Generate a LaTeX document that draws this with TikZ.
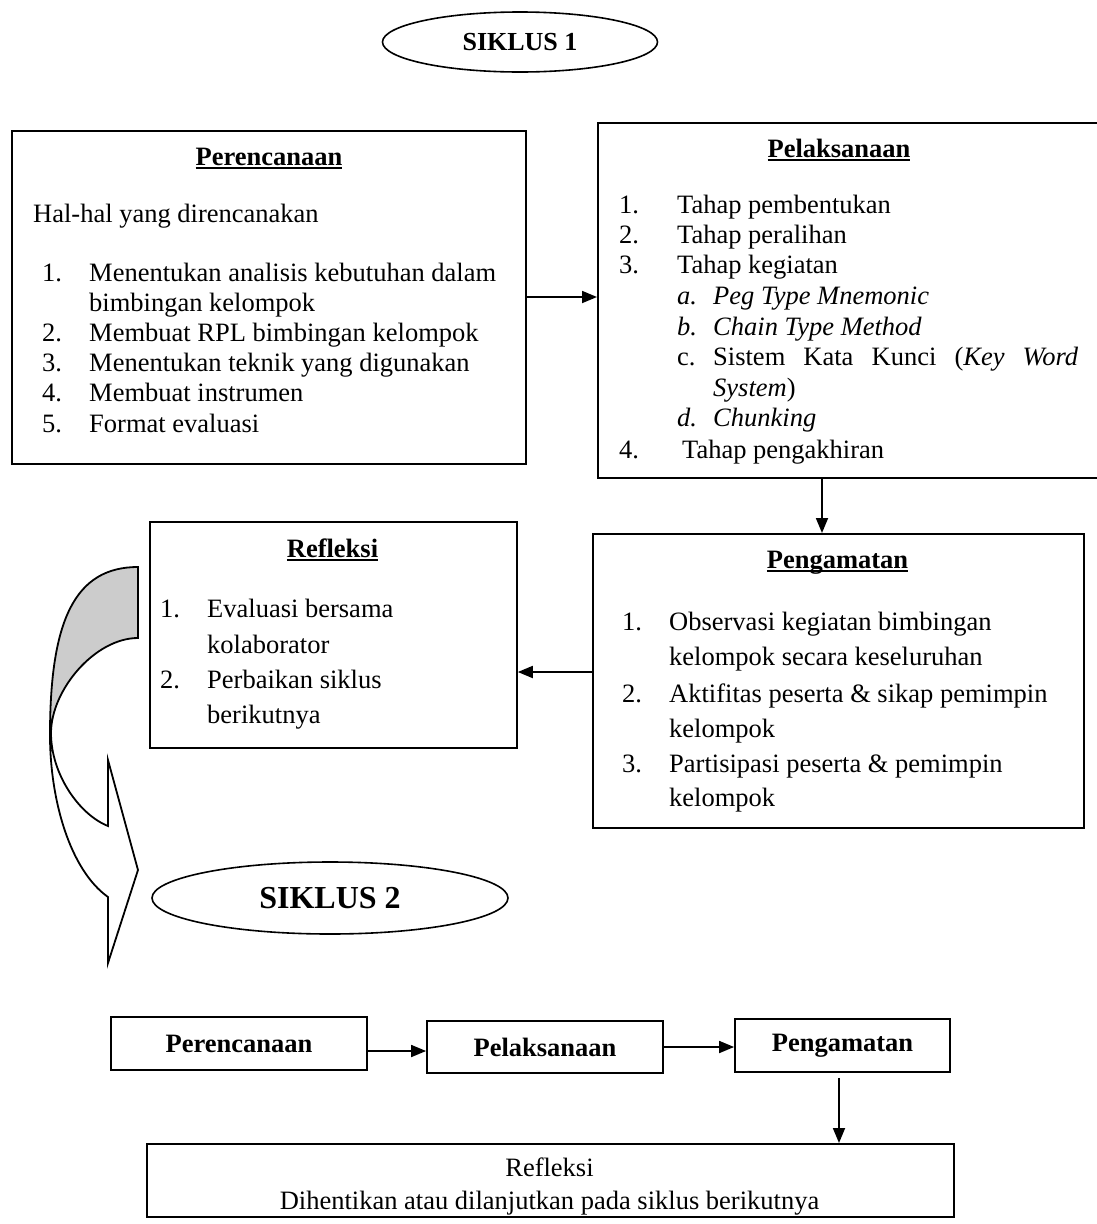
\documentclass[tikz,border=0pt]{standalone}
\usepackage{fontspec}
\setmainfont{Liberation Serif}
\usetikzlibrary{arrows.meta,shapes.geometric,calc}
\newcommand\myul[1]{\setbox0\hbox{#1}\rlap{\rule[-3.5pt]{\wd0}{1.5pt}}\box0}
\begin{document}
\begin{tikzpicture}[x=1pt,y=-1pt,
  box/.style={draw, line width=1.8pt, inner sep=0pt, anchor=north west},
  txt/.style={anchor=base west, inner sep=0pt, font=\fontsize{26.5}{30}\selectfont},
  ttl/.style={anchor=base, inner sep=0pt, font=\fontsize{26.5}{30}\selectfont\bfseries},
  sbox/.style={draw, line width=1.8pt, inner sep=0pt, font=\fontsize{26.5}{30}\selectfont\bfseries},
  oval/.style={draw, ellipse, line width=1.6pt, inner sep=0pt, font=\bfseries},
  arr/.style={line width=1.8pt, -{Triangle[length=15pt,width=12pt]}}]
\useasboundingbox (0,0) rectangle (1096,1224);

% ---------- SIKLUS 1 ----------
\node[oval, minimum width=275pt, minimum height=60pt, font=\fontsize{26}{30}\selectfont\bfseries] (s1) at (520,42) {SIKLUS 1};

% ---------- Perencanaan ----------
\node[box, minimum width=514pt, minimum height=333pt] (per1) at (11,130) {};
\node[ttl] (per1t) at (269,165) {\myul{Perencanaan}};
\node[txt] (p0) at (33,222) {Hal-hal yang direncanakan};
\node[txt] (p1n) at (42,281) {1.};
\node[txt] (p1) at (89,281) {Menentukan analisis kebutuhan dalam};
\node[txt] (p1b) at (89,311) {bimbingan kelompok};
\node[txt] (p2n) at (42,341) {2.};
\node[txt] (p2) at (89,341) {Membuat RPL bimbingan kelompok};
\node[txt] (p3n) at (42,371) {3.};
\node[txt] (p3) at (89,371) {Menentukan teknik yang digunakan};
\node[txt] (p4n) at (42,401) {4.};
\node[txt] (p4) at (89,401) {Membuat instrumen};
\node[txt] (p5n) at (42,432) {5.};
\node[txt] (p5) at (89,432) {Format evaluasi};

% ---------- Pelaksanaan ----------
\node[box, minimum width=503pt, minimum height=355pt] (pel1) at (597,122) {};
\node[ttl] (pel1t) at (839,157) {\myul{Pelaksanaan}};
\node[txt] (l1n) at (619,213) {1.};
\node[txt] (l1) at (677,213) {Tahap pembentukan};
\node[txt] (l2n) at (619,243) {2.};
\node[txt] (l2) at (677,243) {Tahap peralihan};
\node[txt] (l3n) at (619,273) {3.};
\node[txt] (l3) at (677,273) {Tahap kegiatan};
\node[txt] (lan) at (677,304) {\itshape a.};
\node[txt] (la) at (713,304) {\itshape Peg Type Mnemonic};
\node[txt] (lbn) at (677,335) {\itshape b.};
\node[txt] (lb) at (713,335) {\itshape Chain Type Method};
\node[txt] (lcn) at (677,365) {c.};
\node[txt] (lc) at (713,365) {\hbox to 365pt{Sistem\hfill Kata\hfill Kunci\hfill (\textit{Key}\hfill\textit{Word}}};
\node[txt] (lc2) at (713,396) {\textit{System})};
\node[txt] (ldn) at (677,426) {\itshape d.};
\node[txt] (ld) at (713,426) {\itshape Chunking};
\node[txt] (l4n) at (619,458) {4.};
\node[txt] (l4) at (682,458) {Tahap pengakhiran};

% ---------- Pengamatan ----------
\node[box, minimum width=491pt, minimum height=294pt] (peng1) at (592,533) {};
\node[ttl] (peng1t) at (837.5,568) {\myul{Pengamatan}};
\node[txt] (g1n) at (622,630) {1.};
\node[txt] (g1) at (669,630) {Observasi kegiatan bimbingan};
\node[txt] (g1b) at (669,665) {kelompok secara keseluruhan};
\node[txt] (g2n) at (622,702) {2.};
\node[txt] (g2) at (669,702) {Aktifitas peserta \& sikap pemimpin};
\node[txt] (g2b) at (669,737) {kelompok};
\node[txt] (g3n) at (622,772) {3.};
\node[txt] (g3) at (669,772) {Partisipasi peserta \& pemimpin};
\node[txt] (g3b) at (669,806) {kelompok};

% ---------- Refleksi ----------
\node[box, minimum width=367pt, minimum height=226pt] (ref1) at (149,521) {};
\node[ttl] (ref1t) at (332.5,557) {\myul{Refleksi}};
\node[txt] (r1n) at (160,617) {1.};
\node[txt] (r1) at (207,617) {Evaluasi bersama};
\node[txt] (r1b) at (207,653) {kolaborator};
\node[txt] (r2n) at (160,688) {2.};
\node[txt] (r2) at (207,688) {Perbaikan siklus};
\node[txt] (r2b) at (207,723) {berikutnya};

% ---------- connectors cycle 1 ----------
\coordinate (ya) at (0,297);
\coordinate (xb) at (822,0);
\coordinate (yc) at (0,672);
\draw[arr] (per1.east |- ya) -- (pel1.west |- ya);
\draw[arr] (pel1.south -| xb) -- (peng1.north -| xb);
\draw[arr] (peng1.west |- yc) -- (ref1.east |- yc);

% ---------- curved block arrow ----------
\fill[black!20] (138,567) .. controls (75,567) and (50,620) .. (50,735)
   .. controls (51,690) and (95,638) .. (138,638) -- cycle;
\draw[line width=1.8pt, line join=miter]
   (138,567) .. controls (75,567) and (50,620) .. (50,735)
   .. controls (50,800) and (70,870) .. (108,897)
   -- (108,963) -- (138,870) -- (108,760) -- (108,826)
   .. controls (80,815) and (51,775) .. (51,733)
   .. controls (51,690) and (95,638) .. (138,638) -- cycle;

% ---------- SIKLUS 2 ----------
\node[oval, minimum width=356pt, minimum height=72pt, font=\fontsize{32}{36}\selectfont\bfseries] (s2) at (330,898) {SIKLUS 2};

% ---------- cycle 2 ----------
\node[sbox, minimum width=256pt, minimum height=53pt] (per2) at (239,1043.5) {Perencanaan};
\node[sbox, minimum width=236pt, minimum height=52pt] (pel2) at (545,1047) {Pelaksanaan};
\node[sbox, minimum width=215pt, minimum height=53pt] (peng2) at (842.5,1045.5) {Pengamatan};
\node[box, minimum width=807pt, minimum height=73pt] (ref2) at (146,1143) {};
\node[align=center, inner sep=0pt, font=\fontsize{26.5}{33}\selectfont] (ref2t) at (549.5,1187) {Refleksi\\Dihentikan atau dilanjutkan pada siklus berikutnya};

\coordinate (yd) at (0,1051);
\coordinate (ye) at (0,1047);
\coordinate (xf) at (839,0);
\draw[arr] (per2.east |- yd) -- (pel2.west |- yd);
\draw[arr] (pel2.east |- ye) -- (peng2.west |- ye);
\draw[arr] ([yshift=-5pt]peng2.south -| xf) -- (ref2.north -| xf);
\end{tikzpicture}
\end{document}
